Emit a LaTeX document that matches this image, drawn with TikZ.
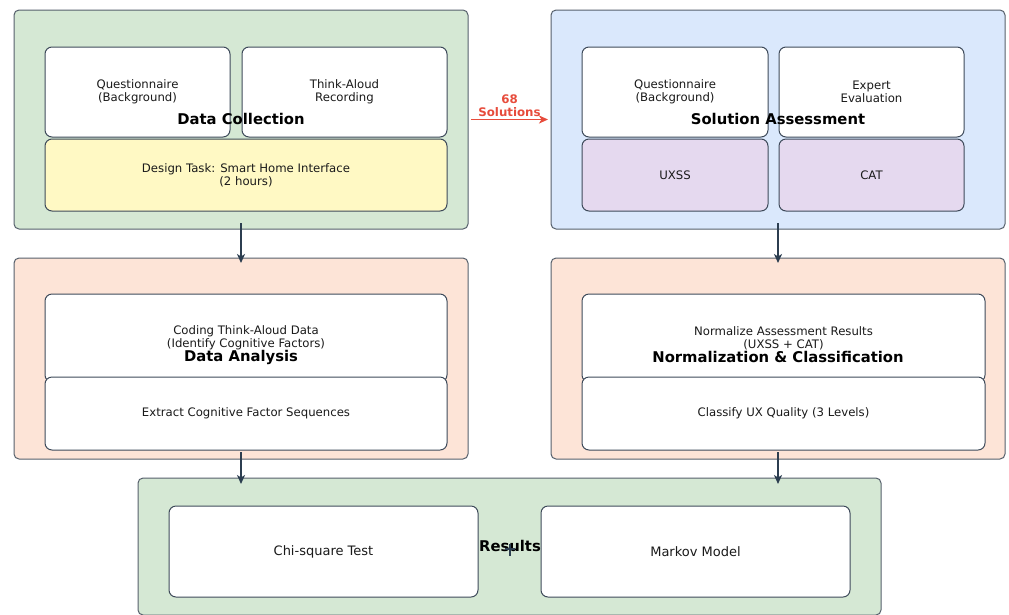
\documentclass[tikz,border=0pt]{standalone}
\usepackage{fontspec}
\setmainfont{DejaVu Sans}
\usetikzlibrary{arrows.meta}

\definecolor{greenbg}{HTML}{D5E8D4}
\definecolor{bluebg}{HTML}{DAE8FC}
\definecolor{peachbg}{HTML}{FDE4D7}
\definecolor{yellowbg}{HTML}{FFF9C4}
\definecolor{purplebg}{HTML}{E5D9EF}
\definecolor{paneledge}{HTML}{56606C}
\definecolor{boxedge}{HTML}{3E4A5A}
\definecolor{flowdark}{HTML}{2C3E50}
\definecolor{flowred}{HTML}{E74C3C}
\definecolor{textdark}{HTML}{1A1A1A}

\tikzset{
  panel/.style={draw=paneledge, line width=1pt, rounded corners=5pt,
    inner sep=0pt, outer sep=0pt},
  box/.style={draw=boxedge, fill=white, line width=1pt, rounded corners=7pt,
    inner sep=0pt, outer sep=0pt, align=center, text=textdark,
    font=\fontsize{11.7}{12.9}\selectfont},
  bigbox/.style={box, font=\fontsize{13}{14}\selectfont},
  paneltitle/.style={font=\bfseries\fontsize{14.8}{16}\selectfont},
  flow/.style={draw=flowdark, line width=1.5pt, -{Stealth[length=9pt,width=8pt,inset=2.5pt]}},
  redflow/.style={draw=flowred, line width=1.7pt, -{Stealth[length=9pt,width=8pt,inset=2.5pt]}},
}

\begin{document}
\begin{tikzpicture}[x=1pt, y=-1pt]
    \useasboundingbox[fill=white] (0,0) rectangle (1009,614);

    % top left
    \node[panel, fill=greenbg, minimum width=454pt, minimum height=219pt] (dc) at (241,119.5) {};
    \node[box, minimum width=185pt, minimum height=90pt] (dcq) at (137.5,92) {Questionnaire\\(Background)};
    \node[box, minimum width=205pt, minimum height=90pt] (dcr) at (344.5,92) {Think-Aloud\\Recording};
    \node[box, fill=yellowbg, minimum width=402pt, minimum height=72pt] (dct) at (246,175) {Design Task: Smart Home Interface\\(2 hours)};
    \node[paneltitle] (dctitle) at (241,119) {Data Collection};

    % top right
    \node[panel, fill=bluebg, minimum width=454pt, minimum height=219pt] (sa) at (778,119.5) {};
    \node[box, minimum width=186pt, minimum height=90pt] (saq) at (675,92) {Questionnaire\\(Background)};
    \node[box, minimum width=185pt, minimum height=90pt] (sae) at (871.5,92) {Expert\\Evaluation};
    \node[box, fill=purplebg, minimum width=186pt, minimum height=72pt] (sau) at (675,175) {UXSS};
    \node[box, fill=purplebg, minimum width=185pt, minimum height=72pt] (sac) at (871.5,175) {CAT};
    \node[paneltitle] (satitle) at (778,119) {Solution Assessment};

    % middle left
    \node[panel, fill=peachbg, minimum width=454pt, minimum height=201pt] (da) at (241,358.5) {};
    \node[box, minimum width=402pt, minimum height=88pt] (dac) at (246,338) {Coding Think-Aloud Data\\(Identify Cognitive Factors)};
    \node[box, minimum width=402pt, minimum height=73pt] (dae) at (246,413.5) {Extract Cognitive Factor Sequences};
    \node[paneltitle] (datitle) at (241,357) {Data Analysis};

    % middle right
    \node[panel, fill=peachbg, minimum width=454pt, minimum height=201pt] (nc) at (778,358.5) {};
    \node[box, minimum width=403pt, minimum height=88pt] (ncn) at (783.5,338) {Normalize Assessment Results\\(UXSS + CAT)};
    \node[box, minimum width=403pt, minimum height=73pt] (ncc) at (783.5,413.5) {Classify UX Quality (3 Levels)};
    \node[paneltitle] (nctitle) at (778,357) {Normalization \& Classification};

    % bottom
    \node[panel, fill=greenbg, minimum width=743pt, minimum height=137pt] (res) at (509.5,546.5) {};
    \node[bigbox, minimum width=309pt, minimum height=91pt] (resc) at (323.5,551.5) {Chi-square Test};
    \node[bigbox, minimum width=309pt, minimum height=91pt] (resm) at (695.5,551.5) {Markov Model};
    \node[paneltitle] (restitle) at (510,546) {Results};
    \draw[flowdark, line width=1.8pt] (restitle.center) ++(0,-2) -- ++(0,12)
        (restitle.center) ++(-5,3) -- ++(10,0);

    % connectors
    \draw[redflow] ([xshift=3pt]dc.east) -- node[above=-1pt, align=center, text=flowred,
        font=\bfseries\fontsize{11.8}{12.6}\selectfont] {68\\Solutions} ([xshift=-3pt]sa.west);
    \draw[flow] ([yshift=6pt]dc.south) -- ([yshift=-5pt]da.north);
    \draw[flow] ([yshift=6pt]sa.south) -- ([yshift=-5pt]nc.north);
    \draw[flow] ([yshift=7pt]da.south) -- ([yshift=-6pt]da.south |- res.north);
    \draw[flow] ([yshift=7pt]nc.south) -- ([yshift=-6pt]nc.south |- res.north);
\end{tikzpicture}
\end{document}
